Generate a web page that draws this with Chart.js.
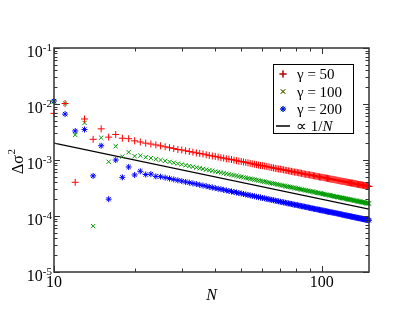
<!DOCTYPE html>
<html>
<head>
<meta charset="utf-8">
<script src="https://cdn.jsdelivr.net/npm/chart.js@4"></script>
<style>
  html, body { margin: 0; padding: 0; background: #fff; }
  #wrap { width: 415px; height: 321px; }
</style>
</head>
<body>
<div id="wrap"><canvas id="chart" width="415" height="321"></canvas></div>
<script>
// N values (x axis)
const nValues = [
    10, 11, 12, 13, 14, 15, 16, 17, 18, 19, 20, 21, 22, 23, 24, 25, 26, 27, 28, 29,
    30, 31, 32, 33, 34, 35, 36, 37, 38, 39, 40, 41, 42, 43, 44, 45, 46, 47, 48, 49,
    50, 51, 52, 53, 54, 55, 56, 57, 58, 59, 60, 61, 62, 63, 64, 65, 66, 67, 68, 69,
    70, 71, 72, 73, 74, 75, 76, 77, 78, 79, 80, 81, 82, 83, 84, 85, 86, 87, 88, 89,
    90, 91, 92, 93, 94, 95, 96, 97, 98, 99, 100, 101, 102, 103, 104, 105, 106, 107, 108, 109,
    110, 111, 112, 113, 114, 115, 116, 117, 118, 119, 120, 121, 122, 123, 124, 125, 126, 127, 128, 129,
    130, 131, 132, 133, 134, 135, 136, 137, 138, 139, 140, 141, 142, 143, 144, 145, 146, 147, 148, 149,
    150
];

// gamma = 50
const gamma50 = [
    6.8e-3, 1.02e-2, 4.0e-4, 5.4e-3, 2.34e-3, 3.6e-3, 2.56e-3, 2.85e-3, 2.45e-3, 2.4e-3,
    2.2e-3, 2.1e-3, 2.0e-3, 1.93e-3, 1.86e-3, 1.79e-3, 1.72e-3, 1.66e-3, 1.60e-3, 1.54e-3,
    1.51e-3, 1.46e-3, 1.42e-3, 1.38e-3, 1.34e-3, 1.31e-3, 1.28e-3, 1.24e-3, 1.21e-3, 1.18e-3,
    1.16e-3, 1.13e-3, 1.10e-3, 1.08e-3, 1.05e-3, 1.04e-3, 1.02e-3, 9.94e-4, 9.73e-4, 9.53e-4,
    9.42e-4, 9.24e-4, 9.06e-4, 8.89e-4, 8.72e-4, 8.56e-4, 8.41e-4, 8.26e-4, 8.12e-4, 7.98e-4,
    7.93e-4, 7.80e-4, 7.68e-4, 7.56e-4, 7.44e-4, 7.32e-4, 7.21e-4, 7.10e-4, 7.00e-4, 6.90e-4,
    6.87e-4, 6.77e-4, 6.68e-4, 6.59e-4, 6.50e-4, 6.41e-4, 6.33e-4, 6.25e-4, 6.17e-4, 6.09e-4,
    6.06e-4, 5.99e-4, 5.91e-4, 5.84e-4, 5.77e-4, 5.71e-4, 5.64e-4, 5.57e-4, 5.51e-4, 5.45e-4,
    5.43e-4, 5.37e-4, 5.32e-4, 5.26e-4, 5.20e-4, 5.15e-4, 5.09e-4, 5.04e-4, 4.99e-4, 4.94e-4,
    4.93e-4, 4.88e-4, 4.83e-4, 4.79e-4, 4.74e-4, 4.70e-4, 4.65e-4, 4.61e-4, 4.56e-4, 4.52e-4,
    4.51e-4, 4.47e-4, 4.43e-4, 4.39e-4, 4.35e-4, 4.31e-4, 4.28e-4, 4.24e-4, 4.20e-4, 4.17e-4,
    4.16e-4, 4.12e-4, 4.09e-4, 4.06e-4, 4.02e-4, 3.99e-4, 3.96e-4, 3.93e-4, 3.90e-4, 3.87e-4,
    3.86e-4, 3.83e-4, 3.80e-4, 3.77e-4, 3.75e-4, 3.72e-4, 3.69e-4, 3.66e-4, 3.64e-4, 3.61e-4,
    3.61e-4, 3.58e-4, 3.56e-4, 3.53e-4, 3.51e-4, 3.48e-4, 3.46e-4, 3.44e-4, 3.41e-4, 3.39e-4,
    3.37e-4
];

// gamma = 100
const gamma100 = [
    1.1e-2, 1.02e-2, 2.8e-3, 4.6e-3, 6.6e-5, 2.5e-3, 9.3e-4, 1.76e-3, 1.15e-3, 1.38e-3,
    1.17e-3, 1.2e-3, 1.12e-3, 1.08e-3, 1.03e-3, 1.00e-3, 9.62e-4, 9.26e-4, 8.93e-4, 8.62e-4,
    8.33e-4, 8.06e-4, 7.81e-4, 7.58e-4, 7.35e-4, 7.14e-4, 6.94e-4, 6.76e-4, 6.58e-4, 6.41e-4,
    6.25e-4, 6.10e-4, 5.95e-4, 5.81e-4, 5.68e-4, 5.56e-4, 5.43e-4, 5.32e-4, 5.21e-4, 5.10e-4,
    5.00e-4, 4.90e-4, 4.81e-4, 4.72e-4, 4.63e-4, 4.55e-4, 4.46e-4, 4.39e-4, 4.31e-4, 4.24e-4,
    4.17e-4, 4.10e-4, 4.03e-4, 3.97e-4, 3.91e-4, 3.85e-4, 3.79e-4, 3.73e-4, 3.68e-4, 3.62e-4,
    3.57e-4, 3.52e-4, 3.47e-4, 3.42e-4, 3.38e-4, 3.33e-4, 3.29e-4, 3.25e-4, 3.21e-4, 3.16e-4,
    3.13e-4, 3.09e-4, 3.05e-4, 3.01e-4, 2.98e-4, 2.94e-4, 2.91e-4, 2.87e-4, 2.84e-4, 2.81e-4,
    2.78e-4, 2.75e-4, 2.72e-4, 2.69e-4, 2.66e-4, 2.63e-4, 2.60e-4, 2.58e-4, 2.55e-4, 2.53e-4,
    2.50e-4, 2.48e-4, 2.45e-4, 2.43e-4, 2.40e-4, 2.38e-4, 2.36e-4, 2.34e-4, 2.31e-4, 2.29e-4,
    2.27e-4, 2.25e-4, 2.23e-4, 2.21e-4, 2.19e-4, 2.17e-4, 2.16e-4, 2.14e-4, 2.12e-4, 2.10e-4,
    2.08e-4, 2.07e-4, 2.05e-4, 2.03e-4, 2.02e-4, 2.00e-4, 1.98e-4, 1.97e-4, 1.95e-4, 1.94e-4,
    1.92e-4, 1.91e-4, 1.89e-4, 1.88e-4, 1.87e-4, 1.85e-4, 1.84e-4, 1.82e-4, 1.81e-4, 1.80e-4,
    1.79e-4, 1.77e-4, 1.76e-4, 1.75e-4, 1.74e-4, 1.72e-4, 1.71e-4, 1.70e-4, 1.69e-4, 1.68e-4,
    1.67e-4
];

// gamma = 200
const gamma200 = [
    1.13e-2, 6.6e-3, 3.3e-3, 3.5e-3, 5.2e-4, 1.8e-3, 2.0e-4, 1.0e-3, 4.9e-4, 7.5e-4,
    5.4e-4, 6.3e-4, 5.5e-4, 5.6e-4, 5.1e-4, 5.04e-4, 4.85e-4, 4.67e-4, 4.50e-4, 4.34e-4,
    4.20e-4, 4.06e-4, 3.94e-4, 3.82e-4, 3.71e-4, 3.60e-4, 3.50e-4, 3.41e-4, 3.32e-4, 3.23e-4,
    3.15e-4, 3.07e-4, 3.00e-4, 2.93e-4, 2.86e-4, 2.80e-4, 2.74e-4, 2.68e-4, 2.63e-4, 2.57e-4,
    2.52e-4, 2.47e-4, 2.42e-4, 2.38e-4, 2.33e-4, 2.29e-4, 2.25e-4, 2.21e-4, 2.17e-4, 2.14e-4,
    2.10e-4, 2.07e-4, 2.03e-4, 2.00e-4, 1.97e-4, 1.94e-4, 1.91e-4, 1.88e-4, 1.85e-4, 1.83e-4,
    1.80e-4, 1.77e-4, 1.75e-4, 1.73e-4, 1.70e-4, 1.68e-4, 1.66e-4, 1.64e-4, 1.62e-4, 1.59e-4,
    1.58e-4, 1.56e-4, 1.54e-4, 1.52e-4, 1.50e-4, 1.48e-4, 1.47e-4, 1.45e-4, 1.43e-4, 1.42e-4,
    1.40e-4, 1.38e-4, 1.37e-4, 1.35e-4, 1.34e-4, 1.33e-4, 1.31e-4, 1.30e-4, 1.29e-4, 1.27e-4,
    1.26e-4, 1.25e-4, 1.24e-4, 1.22e-4, 1.21e-4, 1.20e-4, 1.19e-4, 1.18e-4, 1.17e-4, 1.16e-4,
    1.15e-4, 1.14e-4, 1.13e-4, 1.12e-4, 1.11e-4, 1.10e-4, 1.09e-4, 1.08e-4, 1.07e-4, 1.06e-4,
    1.05e-4, 1.04e-4, 1.03e-4, 1.02e-4, 1.02e-4, 1.01e-4, 1.00e-4, 9.92e-5, 9.84e-5, 9.77e-5,
    9.69e-5, 9.62e-5, 9.55e-5, 9.47e-5, 9.40e-5, 9.33e-5, 9.26e-5, 9.20e-5, 9.13e-5, 9.06e-5,
    9.00e-5, 8.94e-5, 8.87e-5, 8.81e-5, 8.75e-5, 8.69e-5, 8.63e-5, 8.57e-5, 8.51e-5, 8.46e-5,
    8.40e-5
];

// reference line ~ 1/N
const lineN = [10, 150];
const lineValues = [2.0e-3, 1.33e-4];

const seriesLabels = ["γ = 50", "γ = 100", "γ = 200", "∝ 1/N"];

// axis ticks
const xMajorTicks = [10, 100];
const xMinorTicks = [20, 30, 40, 50, 60, 70, 80, 90];
const yMajorTicks = [1e-5, 1e-4, 1e-3, 1e-2, 1e-1];
const yExponents = ["-5", "-4", "-3", "-2", "-1"];
const yMinorTicks = [
    2e-5, 3e-5, 4e-5, 5e-5, 6e-5, 7e-5, 8e-5, 9e-5,
    2e-4, 3e-4, 4e-4, 5e-4, 6e-4, 7e-4, 8e-4, 9e-4,
    2e-3, 3e-3, 4e-3, 5e-3, 6e-3, 7e-3, 8e-3, 9e-3,
    2e-2, 3e-2, 4e-2, 5e-2, 6e-2, 7e-2, 8e-2, 9e-2
];

const RED = "#ff0000";
const GREEN = "#009a00";
const BLUE = "#0000ff";
const SERIF = "'Liberation Serif', 'Times New Roman', serif";

function toPoints(xs, ys) {
    return xs.map(function (x, i) {
        return { x: x, y: ys[i] };
    });
}

// ===============================
// FRAME, TICKS, LABELS, LEGEND
// ===============================

const gracePlugin = {
    id: "grace",
    afterDraw: function (chart) {
        const ctx = chart.ctx;
        const area = chart.chartArea;
        const xs = chart.scales.x;
        const ys = chart.scales.y;

        ctx.save();

        // frame
        ctx.strokeStyle = "#333";
        ctx.lineWidth = 1.5;
        ctx.strokeRect(area.left, area.top, area.right - area.left, area.bottom - area.top);

        // inward ticks
        ctx.lineWidth = 1;
        ctx.beginPath();
        function xTick(v, len) {
            const px = Math.round(xs.getPixelForValue(v)) + 0.5;
            ctx.moveTo(px, area.bottom);
            ctx.lineTo(px, area.bottom - len);
            ctx.moveTo(px, area.top);
            ctx.lineTo(px, area.top + len);
        }
        function yTick(v, len) {
            const py = Math.round(ys.getPixelForValue(v)) + 0.5;
            ctx.moveTo(area.left, py);
            ctx.lineTo(area.left + len, py);
            ctx.moveTo(area.right, py);
            ctx.lineTo(area.right - len, py);
        }
        xMajorTicks.forEach(function (v) { xTick(v, 6); });
        xMinorTicks.forEach(function (v) { xTick(v, 3.5); });
        yMajorTicks.forEach(function (v) { yTick(v, 6); });
        yMinorTicks.forEach(function (v) { yTick(v, 3.5); });
        ctx.stroke();

        // tick labels
        ctx.fillStyle = "#000";
        ctx.textBaseline = "alphabetic";
        ctx.font = "16px " + SERIF;
        ctx.textAlign = "center";
        xMajorTicks.forEach(function (v) {
            ctx.fillText(String(v), xs.getPixelForValue(v), area.bottom + 15);
        });

        yMajorTicks.forEach(function (v, i) {
            const py = ys.getPixelForValue(v);
            ctx.font = "11px " + SERIF;
            ctx.textAlign = "left";
            const supW = ctx.measureText(yExponents[i]).width;
            const supX = area.left - 2 - supW;
            ctx.fillText(yExponents[i], supX, py + 3);
            ctx.font = "16px " + SERIF;
            ctx.textAlign = "right";
            ctx.fillText("10", supX, py + 9);
        });

        // axis titles
        ctx.textAlign = "center";
        ctx.font = "italic 16px " + SERIF;
        ctx.fillText("N", (area.left + area.right) / 2, area.bottom + 28);

        ctx.save();
        ctx.translate(23, 174);
        ctx.rotate(-Math.PI / 2);
        ctx.textAlign = "left";
        ctx.font = "16px " + SERIF;
        ctx.fillText("Δσ", 0, 0);
        const w = ctx.measureText("Δσ").width;
        ctx.font = "11px " + SERIF;
        ctx.fillText("2", w + 0.5, -8);
        ctx.restore();

        // legend box
        const bx = 273, by = 64, bw = 80, bh = 69;
        ctx.fillStyle = "#fff";
        ctx.fillRect(bx, by, bw, bh);
        ctx.strokeStyle = "#000";
        ctx.lineWidth = 1;
        ctx.strokeRect(bx + 0.5, by + 0.5, bw, bh);

        const rowY = [74, 91.5, 109, 126];
        chart.data.datasets.forEach(function (ds, i) {
            const y = rowY[i];
            if (i < 3) {
                Chart.helpers.drawPoint(ctx, {
                    pointStyle: ds.pointStyle,
                    radius: ds.pointRadius,
                    borderWidth: ds.borderWidth,
                    rotation: 0
                }, 283, y);
                ctx.strokeStyle = ds.borderColor;
                ctx.lineWidth = ds.borderWidth;
                ctx.stroke();
                ctx.fillStyle = "#000";
                ctx.font = "15px " + SERIF;
                ctx.textAlign = "left";
                ctx.fillText(ds.label, 297, y + 5);
            } else {
                ctx.strokeStyle = "#000";
                ctx.lineWidth = 1.5;
                ctx.beginPath();
                ctx.moveTo(276, y);
                ctx.lineTo(290, y);
                ctx.stroke();
                ctx.fillStyle = "#000";
                ctx.font = "15px " + SERIF;
                ctx.textAlign = "left";
                ctx.fillText("∝ 1/", 296, y + 5);
                const tw = ctx.measureText("∝ 1/").width;
                ctx.font = "italic 15px " + SERIF;
                ctx.fillText("N", 296 + tw, y + 5);
            }
        });

        ctx.restore();
    }
};

// ===============================
// CHART
// ===============================

const chartElement = document.getElementById("chart");

new Chart(chartElement, {
    type: "scatter",
    data: {
        datasets: [
            {
                label: seriesLabels[0],
                data: toPoints(nValues, gamma50),
                pointStyle: "cross",
                pointRadius: 3.5,
                borderWidth: 1,
                borderColor: RED,
                backgroundColor: RED,
                clip: false
            },
            {
                label: seriesLabels[1],
                data: toPoints(nValues, gamma100),
                pointStyle: "crossRot",
                pointRadius: 3,
                borderWidth: 1,
                borderColor: GREEN,
                backgroundColor: GREEN,
                clip: false
            },
            {
                label: seriesLabels[2],
                data: toPoints(nValues, gamma200),
                pointStyle: "star",
                pointRadius: 3,
                borderWidth: 1,
                borderColor: BLUE,
                backgroundColor: BLUE,
                clip: false
            },
            {
                label: seriesLabels[3],
                type: "line",
                data: toPoints(lineN, lineValues),
                borderColor: "#000",
                borderWidth: 1.3,
                pointRadius: 0,
                showLine: true,
                fill: false
            }
        ]
    },
    options: {
        responsive: false,
        devicePixelRatio: 1,
        animation: false,
        events: [],
        layout: {
            padding: { left: 54, top: 48, right: 46, bottom: 49 }
        },
        plugins: {
            legend: { display: false },
            tooltip: { enabled: false }
        },
        scales: {
            x: {
                type: "logarithmic",
                min: 10,
                max: 150,
                display: false
            },
            y: {
                type: "logarithmic",
                min: 1e-5,
                max: 1e-1,
                display: false
            }
        }
    },
    plugins: [gracePlugin]
});
</script>
</body>
</html>
